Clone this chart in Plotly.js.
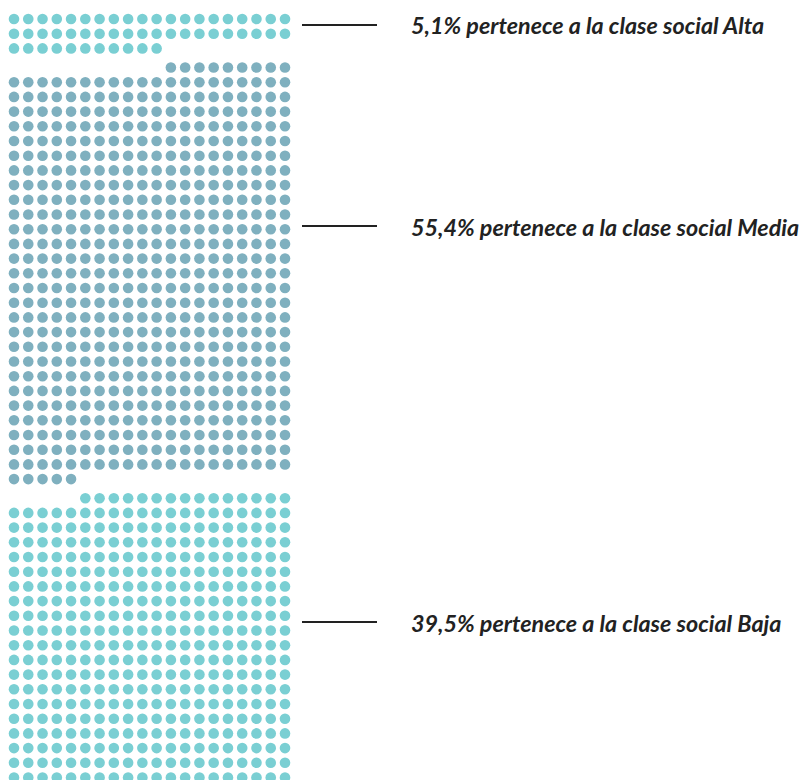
<!DOCTYPE html>
<html>
<head>
<meta charset="utf-8">
<script src="https://cdn.plot.ly/plotly-3.0.1.min.js"></script>
<style>html,body{margin:0;padding:0;background:#fff;}#chart{width:804px;height:780px;}</style>
</head>
<body>
<div id="chart"></div>
<script>
// Data: share of population per social class (units of 0.1%, 1000 dots total)
const categories = ["Alta", "Media", "Baja"];
const counts = [51, 554, 395];
const labels = [
  "5,1% pertenece a la clase social Alta",
  "55,4% pertenece a la clase social Media",
  "39,5% pertenece a la clase social Baja"
];
const colors = ["#7acfd3", "#7fb0bf", "#7acfd3"];

const COLS = 20;
const GROUP_GAP = 1.3; // extra vertical spacing between groups (in rows)

const traces = [];
let idx = 0;
categories.forEach((cat, g) => {
  const xs = [], ys = [];
  for (let k = 0; k < counts[g]; k++, idx++) {
    xs.push(idx % COLS);
    ys.push(Math.floor(idx / COLS) + g * GROUP_GAP);
  }
  traces.push({
    type: "scatter", mode: "markers", name: cat, x: xs, y: ys,
    marker: {color: colors[g], size: 10.6, line: {width: 0}},
    hoverinfo: "skip", showlegend: false
  });
});

const W = 804, H = 780;
const sx = 271 / 19, x0 = -14 / sx;
const sy = 14.7, y0 = -19 / sy;

const labelY = [25, 226, 622];
const shapes = labelY.map(py => ({
  type: "line", xref: "paper", yref: "paper",
  x0: 302 / W, x1: 377 / W, y0: 1 - py / H, y1: 1 - py / H,
  line: {color: "#222", width: 2}
}));
const annotations = labels.map((t, i) => ({
  text: "<b><i>" + t + "</i></b>", xref: "paper", yref: "paper", x: 409 / W, y: 1 - (labelY[i] + 0.5) / H,
  xanchor: "left", yanchor: "middle", showarrow: false,
  font: {family: "Lato", size: 23.3, color: "#222"}
}));

const layout = {
  width: W, height: H,
  margin: {l: 0, r: 0, t: 0, b: 0},
  paper_bgcolor: "#fff", plot_bgcolor: "#fff",
  xaxis: {range: [x0, x0 + W / sx], visible: false, fixedrange: true},
  yaxis: {range: [y0 + H / sy, y0], visible: false, fixedrange: true},
  shapes: shapes, annotations: annotations
};

Plotly.newPlot("chart", traces, layout, {displayModeBar: false, staticPlot: true});
</script>
</body>
</html>
